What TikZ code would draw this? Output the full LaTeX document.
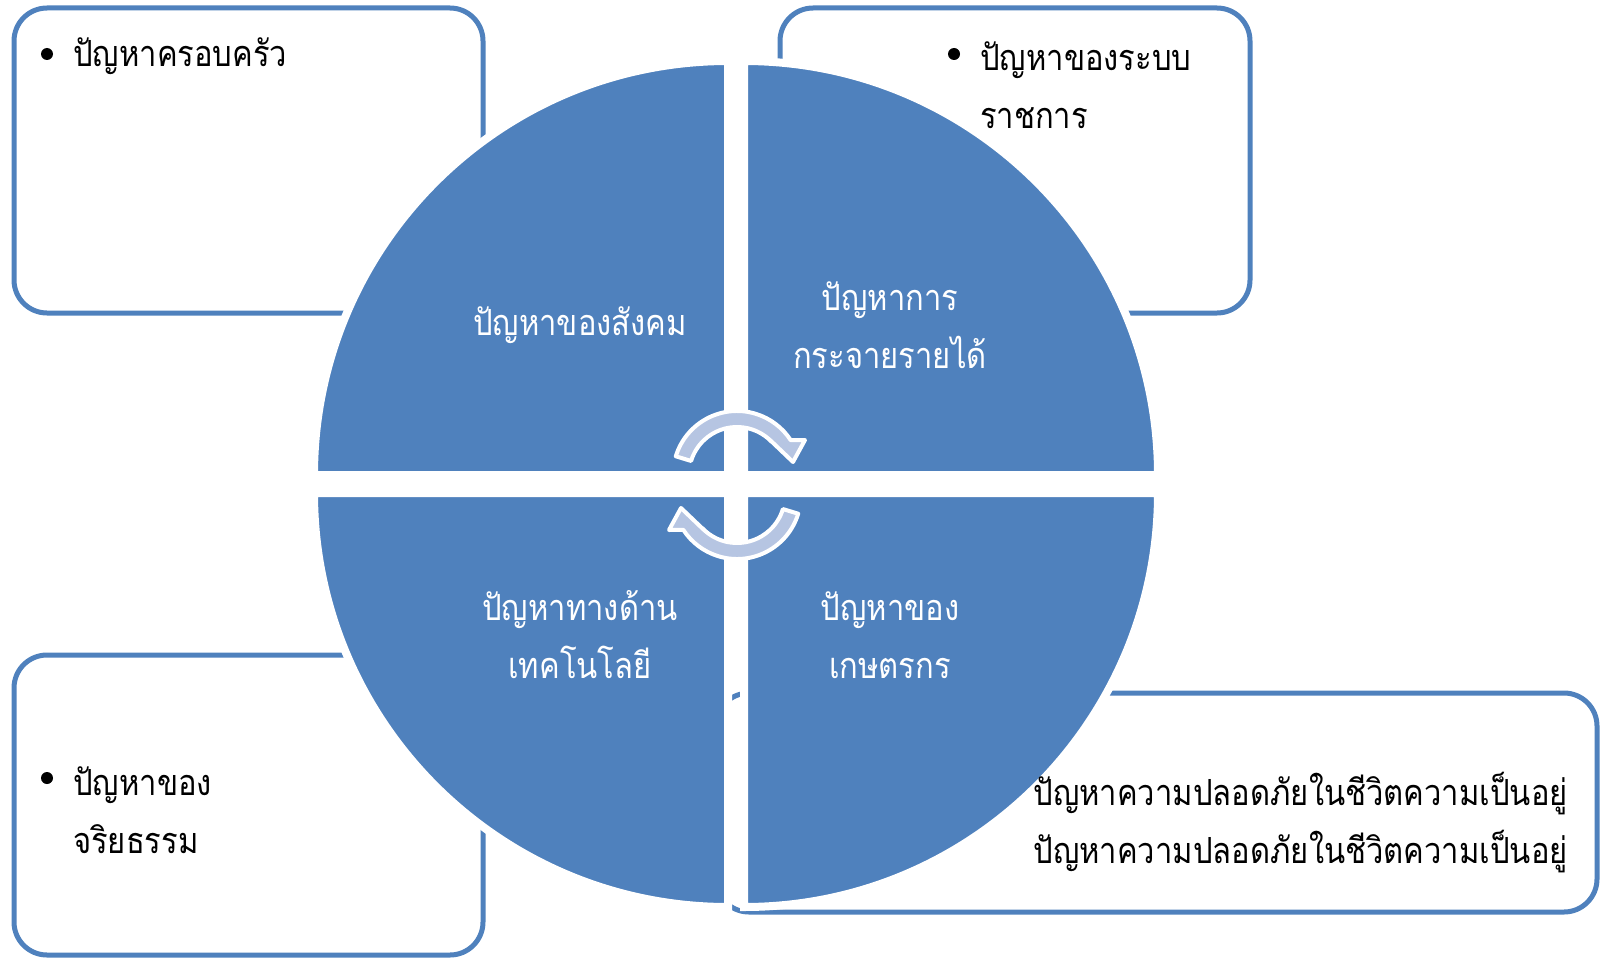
\documentclass[tikz,border=0pt]{standalone}
\usepackage{fontspec}
\newfontfamily\thaifont[Script=Thai, FakeStretch=0.86]{Loma}
\definecolor{matrixblue}{RGB}{79,129,189}
\definecolor{cyclefill}{RGB}{182,197,226}

\begin{document}
\begin{tikzpicture}[x=1pt, y=-1pt,
		notebox/.style={draw=matrixblue, line width=5pt, fill=white, rounded corners=33pt},
		quarter/.style={fill=matrixblue, draw=white, line width=8pt},
		cyclearrow/.style={fill=cyclefill, draw=white, line width=4pt, line join=round},
		thai/.style={font=\thaifont\fontsize{36}{58}\selectfont, inner sep=0pt},
		inlabel/.style={thai, text=white, align=center},
		outlabel/.style={thai, text=black},
		bullet/.style={circle, fill=black, minimum size=12pt, inner sep=0pt}]
	\useasboundingbox (0, 0) rectangle (1600, 958);

	\draw[notebox] (14, 8) rectangle (483, 313);
	\draw[notebox] (780, 8) rectangle (1250, 313);
	\draw[notebox] (14, 655) rectangle (483, 955);
	\draw[notebox] (716, 693) rectangle (1597, 912);

	\draw[quarter] (728, 475) -- ++(-414, 0) arc[start angle=180, end angle=270, radius=414] -- cycle;
	\draw[quarter] (744, 475) -- ++(0, -414) arc[start angle=270, end angle=360, radius=414] -- cycle;
	\draw[quarter] (728, 493) -- ++(-414, 0) arc[start angle=180, end angle=90, radius=414] -- cycle;
	\draw[quarter] (744, 493) -- ++(414, 0) arc[start angle=0, end angle=90, radius=414] -- cycle;

	\begin{scope}[shift={(737, 475)}]
		\draw[cyclearrow] (197:64) arc[start angle=197, end angle=327, radius=64] -- (68, -35) -- (56, -13) -- (33, -35) -- (317:48) arc[start angle=317, end angle=197, radius=48] -- cycle;
	\end{scope}
	\begin{scope}[shift={(737, 495)}]
		\draw[cyclearrow] (17:64) arc[start angle=17, end angle=147, radius=64] -- (-68, 35) -- (-56, 13) -- (-33, 35) -- (137:48) arc[start angle=137, end angle=17, radius=48] -- cycle;
	\end{scope}

	\node[inlabel] (society) at (580, 325) {ปัญหาของสังคม};
	\node[inlabel] (income) at (890, 325) {ปัญหาการ\\กระจายรายได้};
	\node[inlabel] (technology) at (580, 635) {ปัญหาทางด้าน\\เทคโนโลยี};
	\node[inlabel] (farmer) at (890, 635) {ปัญหาของ\\เกษตรกร};

	\node[bullet] (dot1) at (47, 54) {};
	\node[outlabel, anchor=west] (family) at (73, 56) {ปัญหาครอบครัว};
	\node[bullet] (dot2) at (954, 54) {};
	\node[outlabel, anchor=west, align=left] (official) at (980, 85) {ปัญหาของระบบ\\ราชการ};
	\node[bullet] (dot3) at (47, 778) {};
	\node[outlabel, anchor=west, align=left] (ethics) at (73, 810) {ปัญหาของ\\จริยธรรม};
	\node[outlabel, anchor=east, align=right] (safety) at (1568, 823) {ปัญหาความปลอดภัยในชีวิตความเป็นอยู่\\ปัญหาความปลอดภัยในชีวิตความเป็นอยู่};
\end{tikzpicture}
\end{document}
